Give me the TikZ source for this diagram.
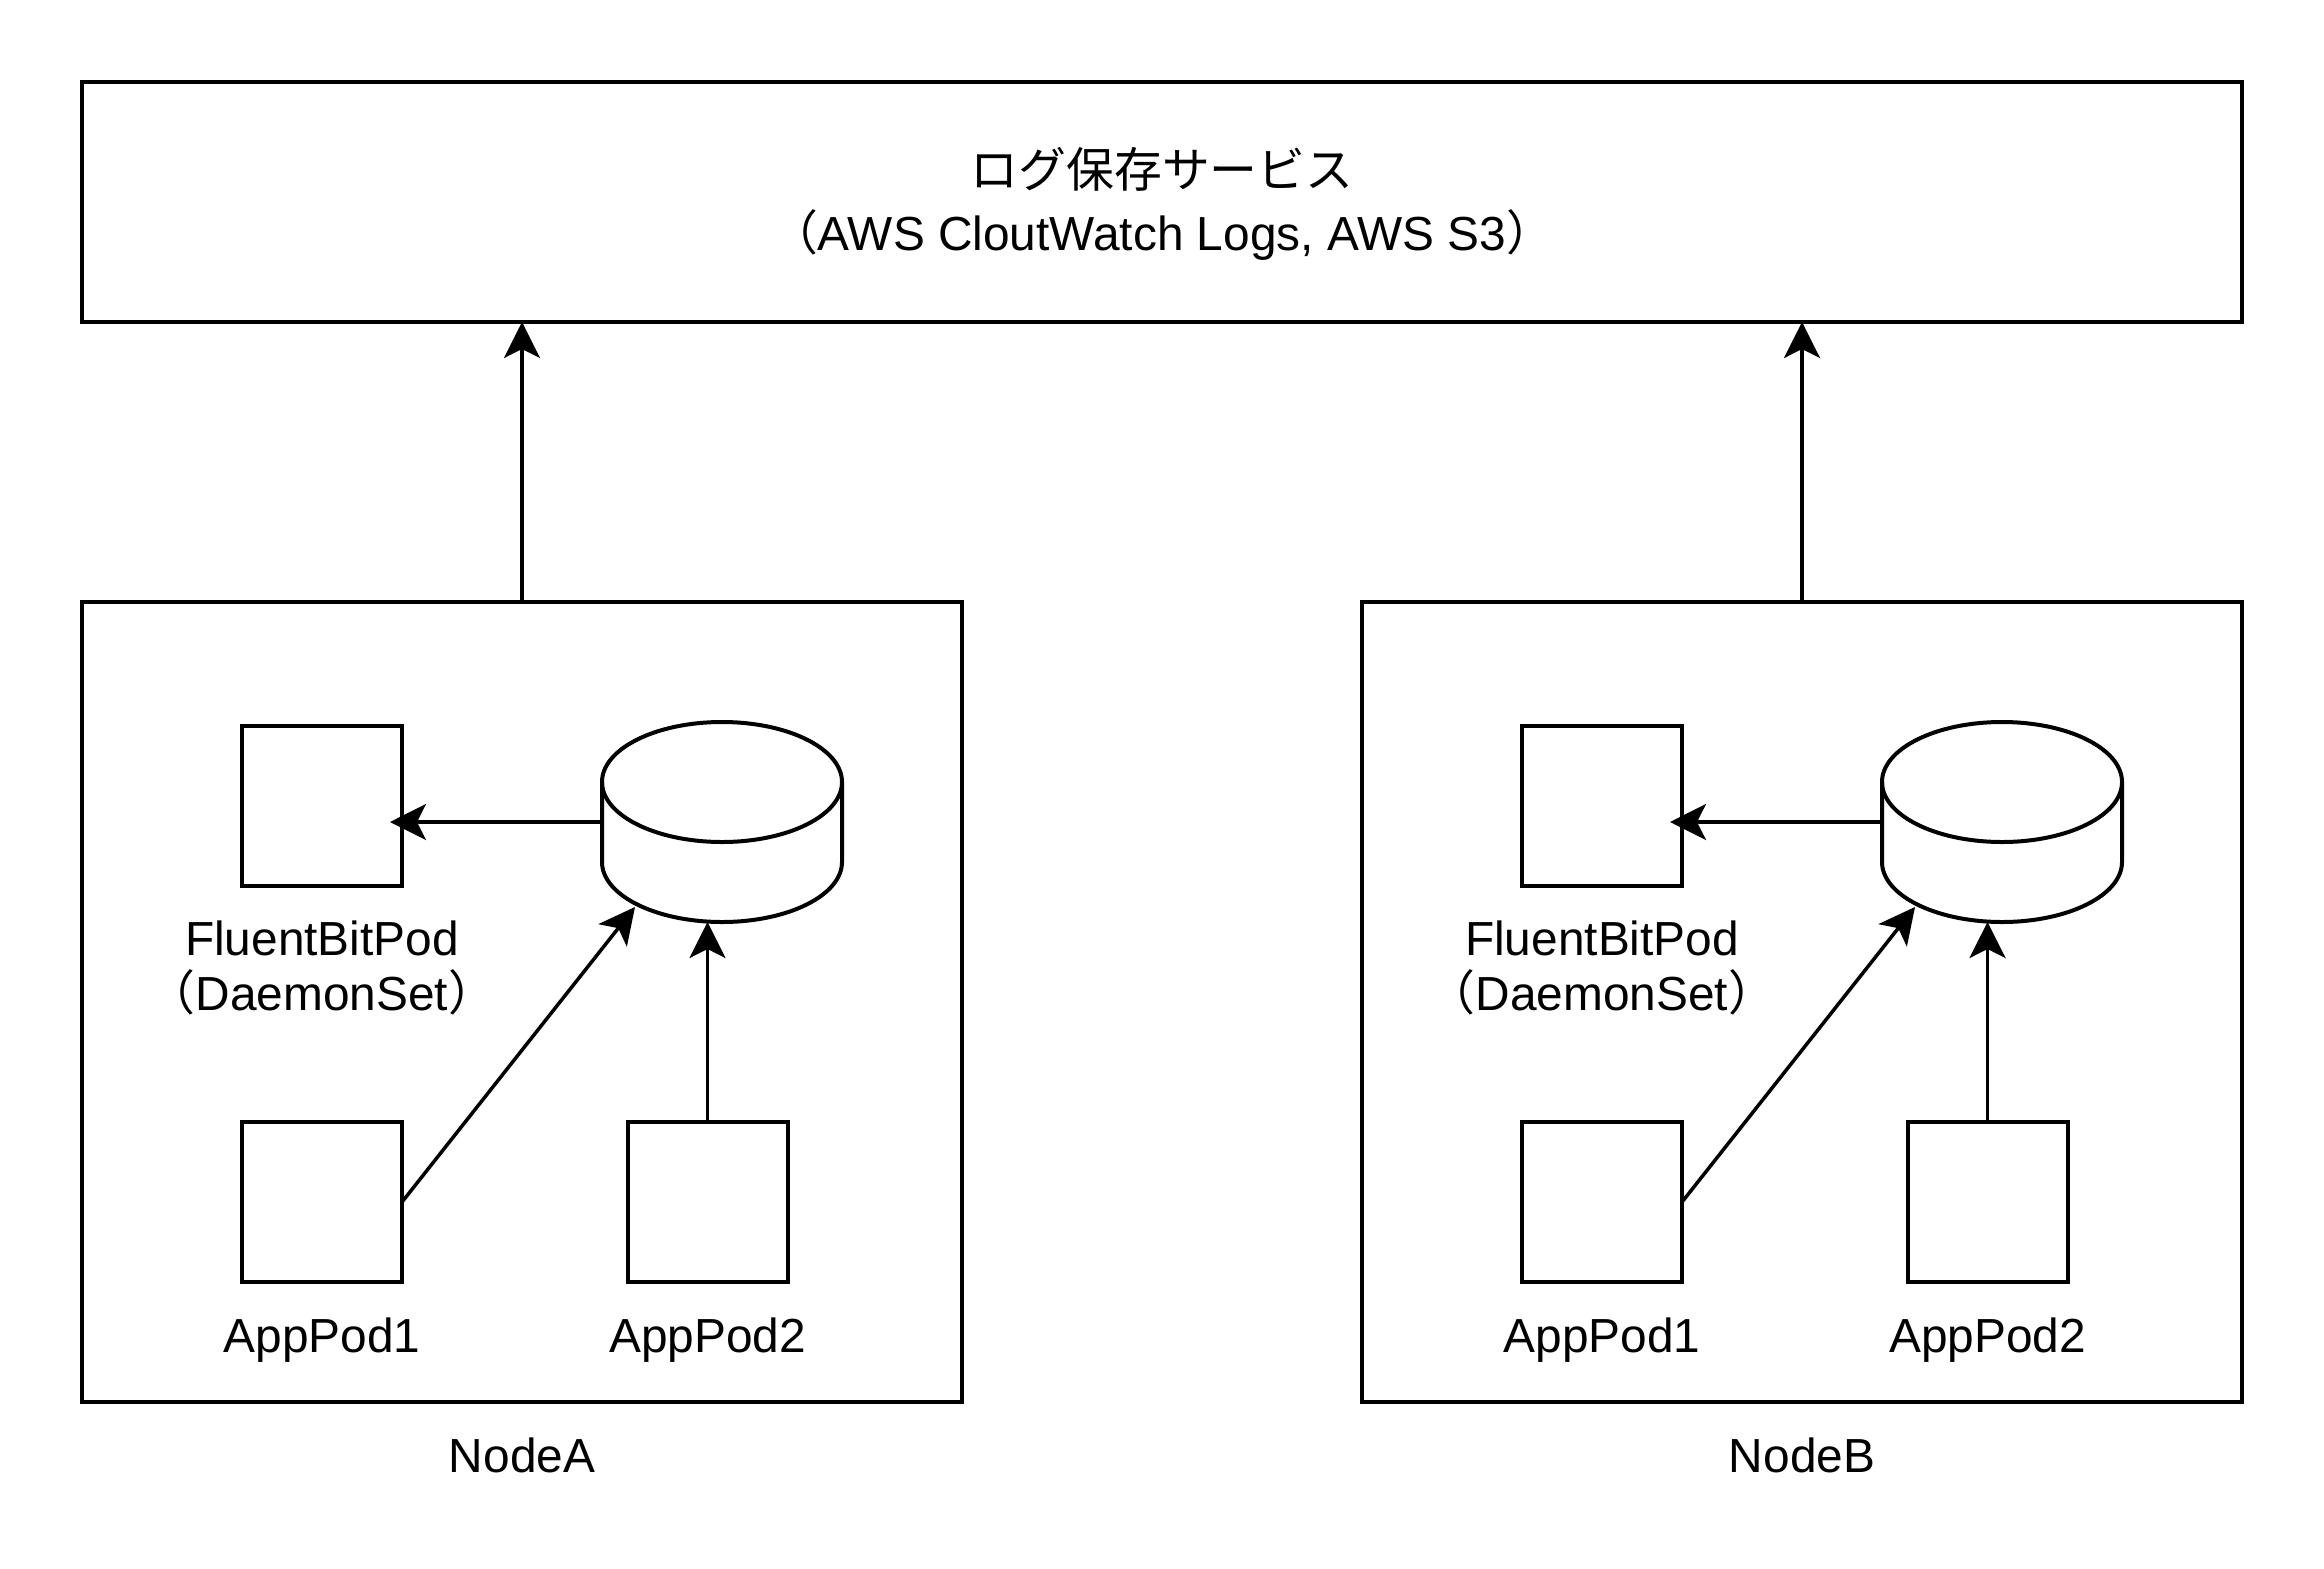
\documentclass[tikz,border=0pt]{standalone}
\usepackage{fontspec}
\setmainfont{Liberation Sans}
\newfontfamily\cjk{Noto Sans CJK JP}
\usetikzlibrary{arrows.meta}
\tikzset{
  shp/.style={draw, line width=4bp, rectangle, inner sep=0pt, outer sep=0pt},
  ghost/.style={rectangle, inner sep=0pt, outer sep=0pt},
  lbl/.style={font=\fontsize{48}{56}\selectfont, anchor=base, inner sep=0pt},
  conn/.style={line width=3.5bp, -{Stealth[length=36bp,width=36bp,inset=9bp]}},
  cylline/.style={line width=4bp},
}
\newcommand\podgroup[3]{%
\begin{scope}[shift={(#2,0)}]
  \node[shp, minimum width=880bp, minimum height=800bp] (box#1) at (522,1002) {};
  \node[shp, minimum size=160bp] (fb#1) at (322,806) {};
  \node[shp, minimum size=160bp] (apa#1) at (322,1202) {};
  \node[shp, minimum size=160bp] (apb#1) at (707.5,1202) {};
  \node[ghost, minimum width=240bp, minimum height=200bp] (cyl#1) at (722,822) {};
  \draw[cylline] (722,782) ellipse [x radius=120, y radius=60];
  \draw[cylline] (602,782) -- (602,862) arc[start angle=180, end angle=0, x radius=120, y radius=60] -- (842,782);
  \coordinate (cylin#1) at (635,907);
  \coordinate (fbin#1) at (390,822);
  \node[lbl] (fbl#1) at (322,955) {FluentBitPod};
  \node[lbl] (fbm#1) at (322,1010) {{\cjk （}DaemonSet{\cjk ）}};
  \node[lbl] (apal#1) at (322,1352) {AppPod1};
  \node[lbl] (apbl#1) at (707.5,1352) {AppPod2};
  \node[lbl] (name#1) at (522,1472) {#3};
  \draw[conn] (cyl#1.west) -- (fbin#1);
  \draw[conn] (apa#1.east) -- (cylin#1);
  \draw[conn] (apb#1.north) -- (apb#1.north |- cyl#1.south);
\end{scope}
\draw[conn] (box#1.north) -- (box#1.north |- logs.south);
}
\begin{document}
\begin{tikzpicture}[x=1bp,y=-1bp]
  \useasboundingbox (0,0) rectangle (2324,1568);
  \fill[white] (0,0) rectangle (2324,1568);
  \node[shp, minimum width=2160bp, minimum height=240bp] (logs) at (1162,202) {};
  \node[lbl] (logs1) at (1162,187) {\cjk\fontsize{48}{56}\selectfont ログ保存サービス};
  \node[lbl] (logs2) at (1162,250) {{\cjk （}AWS CloutWatch Logs, AWS S3{\cjk ）}};
  \podgroup{A}{0}{NodeA}
  \podgroup{B}{1280}{NodeB}
\end{tikzpicture}
\end{document}
